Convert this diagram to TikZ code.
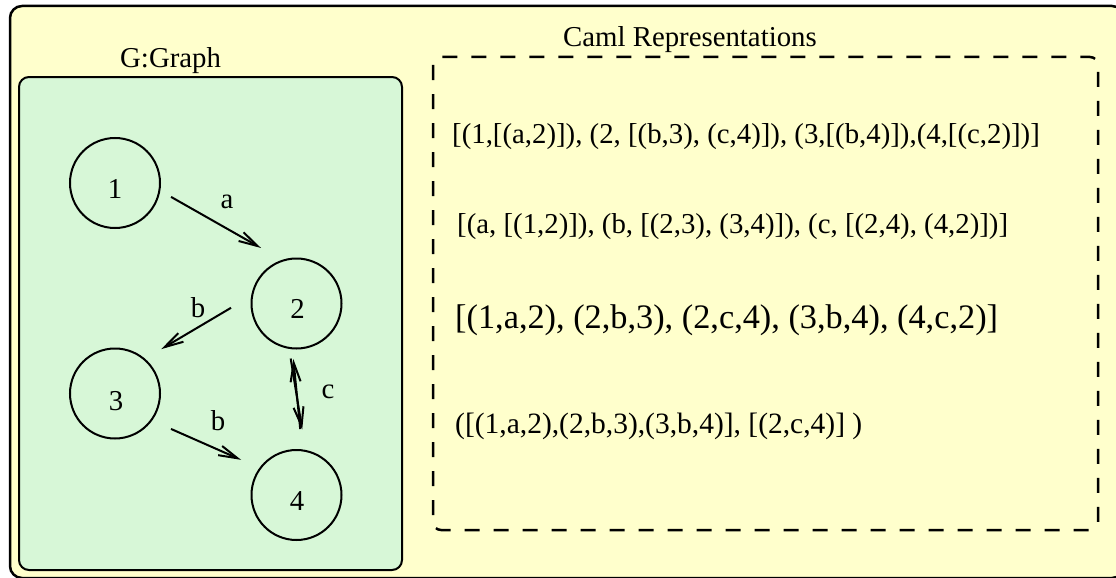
\documentclass[tikz,border=0pt]{standalone}
\usepackage{fontspec}
\setmainfont{Liberation Serif}
\usetikzlibrary{arrows.meta}
\definecolor{bgyellow}{RGB}{255,255,204}
\definecolor{graphgreen}{RGB}{215,247,215}
\begin{document}
\begin{tikzpicture}[x=1pt,y=-1pt,
  txt/.style={inner sep=0pt, font=\fontsize{28.8}{34}\selectfont},
  bigtxt/.style={inner sep=0pt, font=\fontsize{34.3}{40}\selectfont},
  midtxt/.style={inner sep=0pt, font=\fontsize{29.5}{35}\selectfont},
  vertex/.style={draw, circle, line width=2pt, minimum size=90pt, inner sep=0pt, outer sep=1.5pt},
  edge/.style={line width=2pt, -{Straight Barb[length=19pt,width=10pt]}},
  outerbox/.style={line width=2.5pt, fill=bgyellow, rounded corners=12pt},
  graphbox/.style={line width=2pt, fill=graphgreen, rounded corners=10pt},
  camlbox/.style={line width=2.5pt, dash pattern=on 15pt off 14pt, rounded corners=8pt},
]
\useasboundingbox (0,0) rectangle (1116,578);
\fill[white] (0,0) rectangle (1116,578);
\clip (0,0) rectangle (1116,578);
\draw[outerbox] (10,6) rectangle (1124,578);
\draw[graphbox] (19,77) rectangle (402,570);
\draw[camlbox] (433,57) rectangle (1098,530);

% titles
\node[txt, anchor=base west] (gtitle) at (120,67) {G:Graph};
\node[txt, anchor=base west] (ctitle) at (563,47) {Caml Representations};

% graph vertices
\node[vertex] (n1) at (115,183) {};
\node[vertex] (n2) at (296.5,303.5) {};
\node[vertex] (n3) at (115,393.5) {};
\node[vertex] (n4) at (296.5,495) {};
\node[txt, anchor=base] (l1) at (115,198) {1};
\node[txt, anchor=base] (l2) at (297.5,318) {2};
\node[txt, anchor=base] (l3) at (116,410) {3};
\node[txt, anchor=base] (l4) at (297,510) {4};

% edges
\draw[edge, shorten <=11.8pt, shorten >=23.4pt] (n1.-10) -- (n2.109);
\draw[edge, shorten <=22.7pt, shorten >=18.2pt] (n2.171) -- (n3.49);
\draw[edge, shorten <=20.1pt, shorten >=19.4pt] (n3.-36) -- (n4.144);
\draw[edge, shorten <=19.9pt, shorten >=9.2pt] (n4.83) -- (n2.-95);
\draw[edge, shorten <=9.2pt, shorten >=19.9pt] (n2.-99) -- (n4.79);

% edge labels
\node[txt, anchor=base] (ea) at (227,208) {a};
\node[txt, anchor=base] (eb1) at (198,317) {b};
\node[txt, anchor=base] (eb2) at (218,430) {b};
\node[txt, anchor=base] (ec) at (328,398) {c};

% representations
\node[txt, anchor=base west] (r1) at (452,143) {[(1,[(a,2)]), (2, [(b,3), (c,4)]), (3,[(b,4)]),(4,[(c,2)])]};
\node[txt, anchor=base west] (r2) at (457,233) {[(a, [(1,2)]), (b, [(2,3), (3,4)]), (c, [(2,4), (4,2)])]};
\node[bigtxt, anchor=base west] (r3) at (455,328) {[(1,a,2), (2,b,3), (2,c,4), (3,b,4), (4,c,2)]};
\node[midtxt, anchor=base west] (r4) at (455,433) {([(1,a,2),(2,b,3),(3,b,4)], [(2,c,4)] )};
\end{tikzpicture}
\end{document}
